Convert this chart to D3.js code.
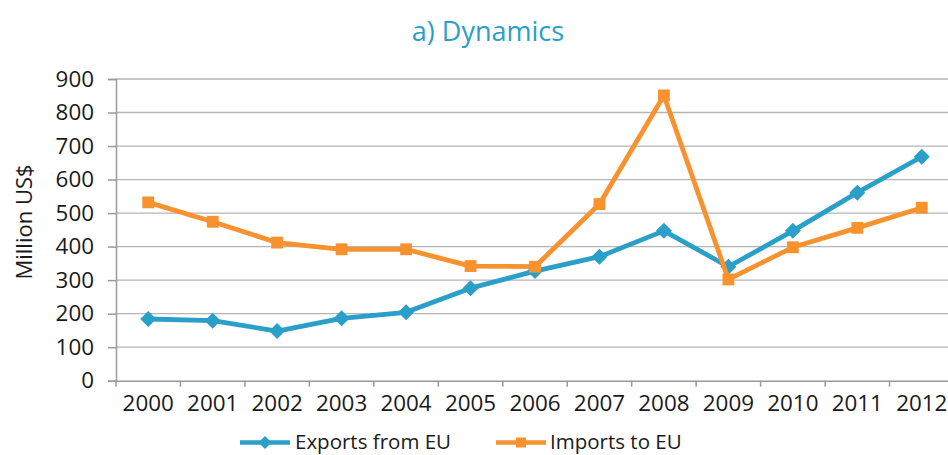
<!DOCTYPE html>
<html><head><meta charset="utf-8">
<script src="https://cdn.jsdelivr.net/npm/d3@7"></script>
<style>body{margin:0;background:#fff}svg{display:block}text{font-family:"Open Sans","Liberation Sans",sans-serif}</style>
</head><body>
<svg id="c" width="948" height="455"></svg>
<script>
const years = ["2000","2001","2002","2003","2004","2005","2006","2007","2008","2009","2010","2011","2012"];
const exportsEU = [184,179,148,186,204,276,327,370,447,340,447,561,668];
const importsEU = [532,474,412,392,392,342,340,527,851,302,398,456,516];
const yTicks = [0,100,200,300,400,500,600,700,800,900];
const seriesNames = ["Exports from EU","Imports to EU"];
const colors = ["#2a9fc8","#f7922f"];

const svg = d3.select("#c");
const L=116, R=954, T=79, B=380.7;
const x = d3.scaleBand().domain(years).range([L,R]);
const y = d3.scaleLinear().domain([0,900]).range([B,T]);

svg.append("text").attr("x",488).attr("y",41).attr("text-anchor","middle")
  .attr("font-size",27).attr("fill","#2a9fc8").text("a) Dynamics");

// grid
svg.append("g").selectAll("line").data(yTicks.slice(1)).join("line")
  .attr("x1",L).attr("x2",R).attr("y1",d=>y(d)).attr("y2",d=>y(d))
  .attr("stroke","#b5b5b5").attr("stroke-width",1.3);

// y axis
const ya = svg.append("g").attr("transform",`translate(${L},0)`)
  .call(d3.axisLeft(y).tickValues(yTicks).tickSize(8).tickPadding(14));
ya.select(".domain").attr("stroke","#9a9a9a").attr("stroke-width",1.5);
ya.selectAll(".tick line").attr("stroke","#9a9a9a").attr("stroke-width",1.5);
ya.selectAll("text").attr("font-size",22.4).attr("fill","#1a1a1a").attr("font-family","'Open Sans',sans-serif");

// x axis
const xa = svg.append("g").attr("transform",`translate(0,${B})`)
  .call(d3.axisBottom(x).tickSize(0).tickPadding(14));
xa.select(".domain").attr("stroke","#9a9a9a").attr("stroke-width",1.5);
xa.selectAll("text").attr("font-size",22.4).attr("fill","#1a1a1a").attr("font-family","'Open Sans',sans-serif");
svg.append("g").selectAll("line").data(d3.range(years.length+1)).join("line")
  .attr("x1",i=>L+i*x.step()).attr("x2",i=>L+i*x.step())
  .attr("y1",B).attr("y2",B+6).attr("stroke","#9a9a9a").attr("stroke-width",1.5);

svg.append("text").attr("transform","translate(32,222) rotate(-90)")
  .attr("text-anchor","middle").attr("font-size",22).attr("fill","#1a1a1a").text("Million US$");

const cx = d=>x(d)+x.bandwidth()/2;
const line = d3.line().x((d,i)=>cx(years[i])).y(d=>y(d));
const data = [exportsEU, importsEU];
const rhombus = r => `M0,${-r}L${r},0L0,${r}L${-r},0Z`;
const square = d3.symbol().type(d3.symbolSquare).size(140);

data.forEach((vals,k)=>{
  svg.append("path").datum(vals).attr("d",line).attr("fill","none")
    .attr("stroke",colors[k]).attr("stroke-width",4.8).attr("stroke-linejoin","round");
  svg.append("g").selectAll("path").data(vals).join("path")
    .attr("transform",(d,i)=>`translate(${cx(years[i])},${y(d)})`)
    .attr("d",k===0?rhombus(8):square).attr("fill",colors[k]);
});

// legend
const lg = [{x0:240,tx:295},{x0:496,tx:550}];
lg.forEach((p,k)=>{
  const g = svg.append("g");
  g.append("line").attr("x1",p.x0).attr("x2",p.x0+50).attr("y1",442.5).attr("y2",442.5)
    .attr("stroke",colors[k]).attr("stroke-width",4.5);
  g.append("path").attr("transform",`translate(${p.x0+25},442.5)`)
    .attr("d",k===0?rhombus(6.5):d3.symbol().type(d3.symbolSquare).size(100)())
    .attr("fill",colors[k]);
  g.append("text").attr("x",p.tx).attr("y",449).attr("font-size",20.5).attr("fill","#1a1a1a").text(seriesNames[k]);
});
</script>
</body></html>
